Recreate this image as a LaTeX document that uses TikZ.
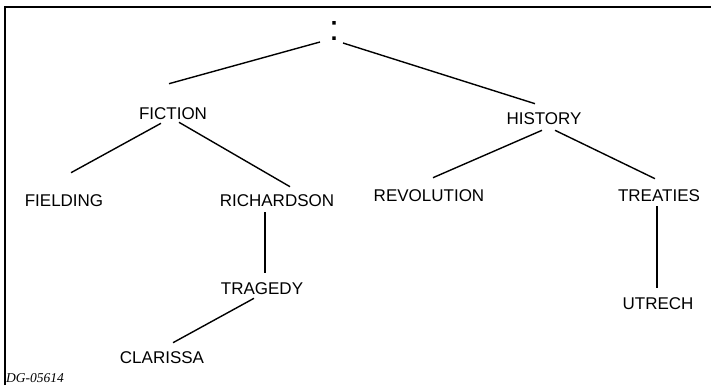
\documentclass[tikz,border=0pt]{standalone}
\usepackage{fontspec}
\newfontfamily\topicfont{Liberation Sans}
\newfontfamily\figfont{Liberation Serif}
\usepackage{tikz}
\usetikzlibrary{positioning}
\tikzset{
  % Text styles
  topicnode/.style={font={\topicfont\fontsize{17}{20}\selectfont}, inner sep=0pt, text height=12.2pt, text depth=0pt},
  rootnode/.style={font={\topicfont\fontsize{36}{36}\selectfont}, inner sep=0pt, anchor=base},
  figlabel/.style={font={\figfont\itshape\fontsize{13.5}{15}\selectfont}, inner sep=0pt, anchor=west},
  % Line styles
  branch/.style={line width=1.4pt, black},
  frameline/.style={line width=1.3pt, black}
}

\begin{document}
\begin{tikzpicture}[x=1pt, y=-1pt]
  \useasboundingbox (0,0) rectangle (711,385);

  % Frame
  \draw[frameline] (5,385) -- (5,7) -- (711,7);

  % Root
  \node[rootnode] (root) at (334,41) {:};

  % Fiction branch
  \node[topicnode] (fiction) at (173,113) {FICTION};
  \node[topicnode] (fielding) at (64,200) {FIELDING};
  \node[topicnode] (richardson) at (277,200) {RICHARDSON};
  \node[topicnode] (tragedy) at (262,288) {TRAGEDY};
  \node[topicnode] (clarissa) at (162,357) {CLARISSA};

  % History branch
  \node[topicnode] (history) at (544,118) {HISTORY};
  \node[topicnode] (revolution) at (429,195) {REVOLUTION};
  \node[topicnode] (treaties) at (659,195) {TREATIES};
  \node[topicnode] (utrech) at (658,303) {UTRECH};

  % Figure label
  \node[figlabel] (figno) at (6,378) {DG-05614};

  % Branches
  \draw[branch] ([xshift=-14pt,yshift=-1pt]root.base) -- ([xshift=-4pt,yshift=23pt]fiction.north);
  \draw[branch] ([xshift=9pt,yshift=-2pt]root.base) -- ([xshift=-9pt,yshift=8pt]history.north);
  \draw[branch] ([xshift=-12pt,yshift=-4pt]fiction.south) -- ([xshift=7pt,yshift=21pt]fielding.north);
  \draw[branch] ([xshift=6pt,yshift=-3pt]fiction.south) -- ([xshift=13pt,yshift=7pt]richardson.north);
  \draw[branch] ([xshift=-12pt,yshift=-6pt]richardson.south) -- ([xshift=3pt,yshift=9pt]tragedy.north);
  \draw[branch] ([xshift=-8pt,yshift=-4pt]tragedy.south) -- ([xshift=11pt,yshift=8pt]clarissa.north);
  \draw[branch] ([xshift=-2pt,yshift=-6pt]history.south) -- ([xshift=4pt,yshift=11pt]revolution.north);
  \draw[branch] ([xshift=11pt,yshift=-6pt]history.south) -- ([xshift=-4pt,yshift=10pt]treaties.north);
  \draw[branch] ([xshift=-2pt,yshift=-5pt]treaties.south) -- ([xshift=-1pt,yshift=9pt]utrech.north);
\end{tikzpicture}
\end{document}
